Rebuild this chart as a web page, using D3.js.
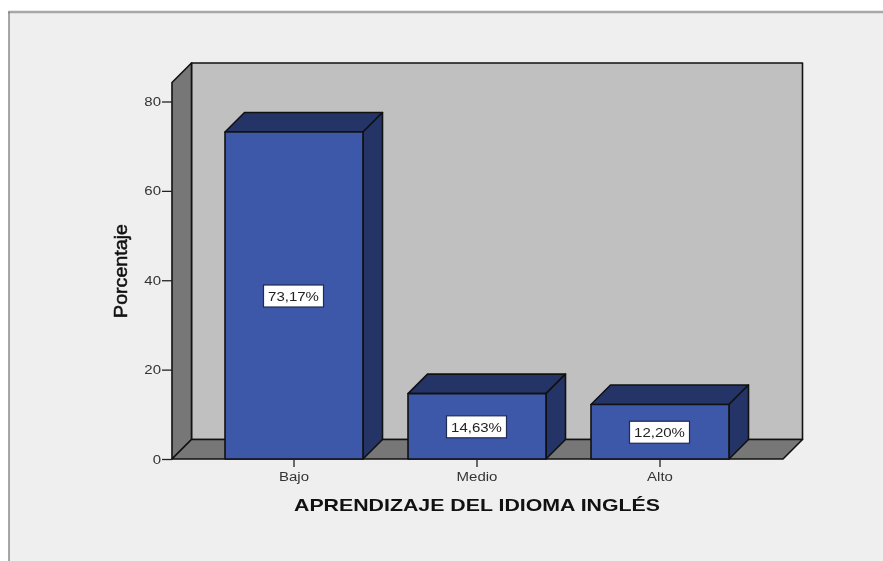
<!DOCTYPE html>
<html>
<head>
<meta charset="utf-8">
<script src="https://cdn.jsdelivr.net/npm/d3@7"></script>
<style>
    html, body { margin: 0; padding: 0; background: #fff; }
    svg { display: block; filter: blur(0.6px); }
    text { font-family: "Liberation Sans", Arial, sans-serif; }
</style>
</head>
<body>
<svg id="chart" width="883" height="561"></svg>
<script>
const categories = ["Bajo", "Medio", "Alto"];
const percentages = [73.17, 14.63, 12.20];
const percentLabels = ["73,17%", "14,63%", "12,20%"];
const yTicks = [0, 20, 40, 60, 80];
const xTitle = "APRENDIZAJE DEL IDIOMA INGLÉS";
const yTitle = "Porcentaje";

const depth = 19.5;
const floorLeft = 172, floorRight = 783, floorY = 459, wallTop = 82.5;

const svg = d3.select("#chart");

const yScale = d3.scaleLinear([0, 80], [floorY, 101.5]);
const xScale = d3.scaleBand(categories, [202.5, 751.5])
    .paddingInner(0.246)
    .paddingOuter(0.123);

const outline = "#111111";
const poly = (pts, fill) => svg.append("polygon")
    .attr("points", pts.map(p => p.join(",")).join(" "))
    .attr("fill", fill)
    .attr("stroke", outline)
    .attr("stroke-width", 1.6)
    .attr("stroke-linejoin", "round");

// the source picture has all its text pulled wider than normal
const stretch = (sel, factor) => sel.each(function () {
    d3.select(this)
        .attr("textLength", this.getComputedTextLength() * factor)
        .attr("lengthAdjust", "spacingAndGlyphs");
});

// page background + frame
svg.append("rect").attr("x", 9).attr("y", 12).attr("width", 874).attr("height", 549).attr("fill", "#efefef");
svg.append("line").attr("x1", 8).attr("x2", 883).attr("y1", 12).attr("y2", 12).attr("stroke", "#a8a8a8").attr("stroke-width", 2.5);
svg.append("line").attr("x1", 9).attr("x2", 9).attr("y1", 12).attr("y2", 561).attr("stroke", "#6e6e6e").attr("stroke-width", 1.2);

// 3d box: back wall, side wall, floor
poly([[floorLeft + depth, wallTop - depth], [floorRight + depth, wallTop - depth], [floorRight + depth, floorY - depth], [floorLeft + depth, floorY - depth]], "#c0c0c0");
poly([[floorLeft, wallTop], [floorLeft + depth, wallTop - depth], [floorLeft + depth, floorY - depth], [floorLeft, floorY]], "#777777");
poly([[floorLeft, floorY], [floorLeft + depth, floorY - depth], [floorRight + depth, floorY - depth], [floorRight, floorY]], "#777777");

// bars
categories.forEach((c, i) => {
    const x0 = xScale(c), x1 = x0 + xScale.bandwidth(), top = yScale(percentages[i]);
    poly([[x0, top], [x0 + depth, top - depth], [x1 + depth, top - depth], [x1, top]], "#243466");
    poly([[x1, top], [x1 + depth, top - depth], [x1 + depth, floorY - depth], [x1, floorY]], "#243466");
    poly([[x0, top], [x1, top], [x1, floorY], [x0, floorY]], "#3e58a9");
});

// value labels
categories.forEach((c, i) => {
    const cx = xScale(c) + xScale.bandwidth() / 2 - 0.5;
    const cy = yScale(percentages[i] / 2) + 0.5;
    svg.append("rect")
        .attr("x", cx - 30).attr("y", cy - 11)
        .attr("width", 60).attr("height", 22)
        .attr("fill", "#ffffff")
        .attr("stroke", "#1f2b55").attr("stroke-width", 1.2);
    svg.append("text")
        .attr("x", cx).attr("y", cy + 4.7)
        .attr("text-anchor", "middle")
        .attr("font-size", 12.5)
        .attr("fill", "#222")
        .text(percentLabels[i])
        .call(stretch, 1.2);
});

// axes
const yAxis = svg.append("g")
    .attr("transform", `translate(${floorLeft},0)`)
    .call(d3.axisLeft(yScale).tickValues(yTicks).tickSize(10).tickPadding(1).tickFormat(d3.format("d")));
yAxis.select(".domain").remove();
yAxis.selectAll("line").attr("stroke", "#222").attr("stroke-width", 1.3);
yAxis.selectAll("text").attr("font-size", 12.5).attr("fill", "#333").style("font-family", "Liberation Sans").call(stretch, 1.2);

const xAxis = svg.append("g")
    .attr("transform", `translate(0,${floorY})`)
    .call(d3.axisBottom(xScale).tickSize(8).tickPadding(5));
xAxis.select(".domain").remove();
xAxis.selectAll("line").attr("stroke", "#222").attr("stroke-width", 1.3);
xAxis.selectAll("text").attr("font-size", 12.5).attr("fill", "#333").style("font-family", "Liberation Sans").call(stretch, 1.2);

// axis titles
svg.append("text")
    .attr("x", 477).attr("y", 510.5)
    .attr("text-anchor", "middle")
    .attr("font-size", 17)
    .attr("font-weight", "bold")
    .attr("fill", "#111")
    .attr("textLength", 366)
    .attr("lengthAdjust", "spacingAndGlyphs")
    .text(xTitle);

svg.append("text")
    .attr("transform", "translate(127,271) rotate(-90)")
    .attr("text-anchor", "middle")
    .attr("font-size", 19)
    .attr("fill", "#111")
    .attr("stroke", "#111")
    .attr("stroke-width", 0.5)
    .attr("textLength", 94)
    .attr("lengthAdjust", "spacingAndGlyphs")
    .text(yTitle);
</script>
</body>
</html>
